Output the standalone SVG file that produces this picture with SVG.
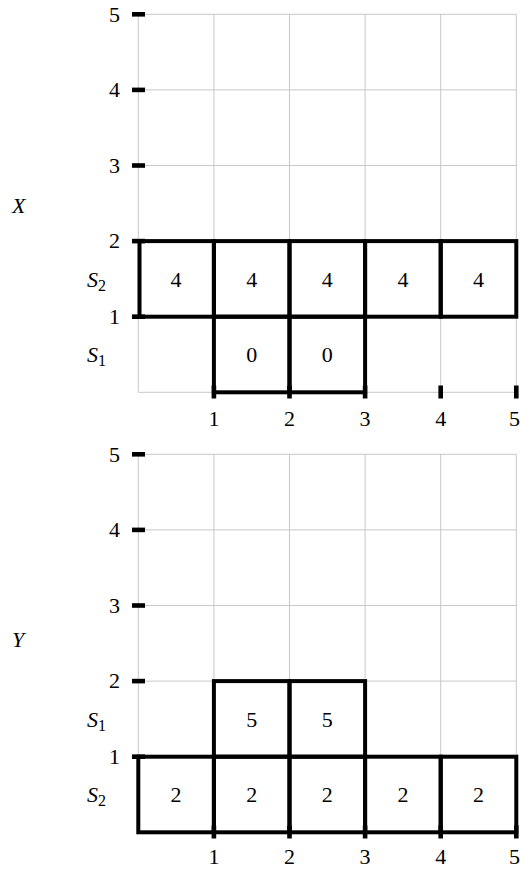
<svg xmlns="http://www.w3.org/2000/svg" width="521" height="869" viewBox="0 0 521 869" font-family="Liberation Serif" font-size="22">
<style>
.grid{stroke:#c8c8c8;stroke-width:1;fill:none}
.box{stroke:#000;stroke-width:4;fill:none}
.tick{fill:#000}
</style>
<rect width="521" height="869" fill="#fff"/>

<g id="plotX">
<path class="grid" d="M138.3 14.3V392.3M213.9 14.3V392.3M289.5 14.3V392.3M365.1 14.3V392.3M440.7 14.3V392.3M516.3 14.3V392.3M138.3 14.3H516.3M138.3 89.9H516.3M138.3 165.5H516.3M138.3 241.1H516.3M138.3 316.7H516.3M138.3 392.3H516.3"/>
<g id="boxesX">
<rect class="box" x="139.5" y="241.1" width="74.4" height="75.6"/>
<rect class="box" x="213.9" y="241.1" width="75.6" height="75.6"/>
<rect class="box" x="289.5" y="241.1" width="75.6" height="75.6"/>
<rect class="box" x="365.1" y="241.1" width="75.6" height="75.6"/>
<rect class="box" x="440.7" y="241.1" width="75.6" height="75.6"/>
<rect class="box" x="213.9" y="316.7" width="75.6" height="75.6"/>
<rect class="box" x="289.5" y="316.7" width="75.6" height="75.6"/>
</g>
<g class="tick">
<rect x="132" y="12" width="13" height="4.6"/>
<rect x="132" y="87.6" width="13" height="4.6"/>
<rect x="132" y="163.2" width="13" height="4.6"/>
<rect x="132" y="238.8" width="13" height="4.6"/>
<rect x="132" y="314.4" width="13" height="4.6"/>
<rect x="211.6" y="385.5" width="4.6" height="13"/>
<rect x="287.2" y="385.5" width="4.6" height="13"/>
<rect x="362.8" y="385.5" width="4.6" height="13"/>
<rect x="438.4" y="385.5" width="4.6" height="13"/>
<rect x="514" y="385.5" width="4.6" height="13"/>
</g>
<text font-family="Liberation Serif" font-size="22" text-anchor="end" x="120" y="22">5</text>
<text font-family="Liberation Serif" font-size="22" text-anchor="end" x="120" y="97">4</text>
<text font-family="Liberation Serif" font-size="22" text-anchor="end" x="120" y="173">3</text>
<text font-family="Liberation Serif" font-size="22" text-anchor="end" x="120" y="248">2</text>
<text font-family="Liberation Serif" font-size="22" text-anchor="end" x="120" y="324">1</text>
<text font-family="Liberation Serif" font-size="22" text-anchor="middle" x="213.9" y="426">1</text>
<text font-family="Liberation Serif" font-size="22" text-anchor="middle" x="289.5" y="426">2</text>
<text font-family="Liberation Serif" font-size="22" text-anchor="middle" x="365.1" y="426">3</text>
<text font-family="Liberation Serif" font-size="22" text-anchor="middle" x="440.7" y="426">4</text>
<text font-family="Liberation Serif" font-size="22" text-anchor="middle" x="514.5" y="426">5</text>
<text font-family="Liberation Serif" font-size="22" text-anchor="middle" x="176.1" y="287">4</text>
<text font-family="Liberation Serif" font-size="22" text-anchor="middle" x="251.7" y="287">4</text>
<text font-family="Liberation Serif" font-size="22" text-anchor="middle" x="327.3" y="287">4</text>
<text font-family="Liberation Serif" font-size="22" text-anchor="middle" x="402.9" y="287">4</text>
<text font-family="Liberation Serif" font-size="22" text-anchor="middle" x="478.5" y="287">4</text>
<text font-family="Liberation Serif" font-size="22" text-anchor="middle" x="251.7" y="362">0</text>
<text font-family="Liberation Serif" font-size="22" text-anchor="middle" x="327.3" y="362">0</text>
<text font-family="Liberation Serif" font-size="22" font-style="italic" x="87" y="287">S<tspan font-size="16" font-style="normal" dy="4">2</tspan></text>
<text font-family="Liberation Serif" font-size="22" font-style="italic" x="87" y="362">S<tspan font-size="16" font-style="normal" dy="4">1</tspan></text>
<text font-family="Liberation Serif" font-size="22" font-style="italic" x="12" y="213">X</text>
</g>

<g id="plotY">
<path class="grid" d="M138.3 454.3V832.3M213.9 454.3V832.3M289.5 454.3V832.3M365.1 454.3V832.3M440.7 454.3V832.3M516.3 454.3V832.3M138.3 454.3H516.3M138.3 529.9H516.3M138.3 605.5H516.3M138.3 681.1H516.3M138.3 756.7H516.3M138.3 832.3H516.3"/>
<g id="boxesY">
<rect class="box" x="138.3" y="756.7" width="75.6" height="75.6"/>
<rect class="box" x="213.9" y="756.7" width="75.6" height="75.6"/>
<rect class="box" x="289.5" y="756.7" width="75.6" height="75.6"/>
<rect class="box" x="365.1" y="756.7" width="75.6" height="75.6"/>
<rect class="box" x="440.7" y="756.7" width="75.6" height="75.6"/>
<rect class="box" x="213.9" y="681.1" width="75.6" height="75.6"/>
<rect class="box" x="289.5" y="681.1" width="75.6" height="75.6"/>
</g>
<g class="tick">
<rect x="132" y="452" width="13" height="4.6"/>
<rect x="132" y="527.6" width="13" height="4.6"/>
<rect x="132" y="603.2" width="13" height="4.6"/>
<rect x="132" y="678.8" width="13" height="4.6"/>
<rect x="132" y="754.4" width="13" height="4.6"/>
<rect x="211.6" y="825.5" width="4.6" height="13"/>
<rect x="287.2" y="825.5" width="4.6" height="13"/>
<rect x="362.8" y="825.5" width="4.6" height="13"/>
<rect x="438.4" y="825.5" width="4.6" height="13"/>
<rect x="514" y="825.5" width="4.6" height="13"/>
</g>
<text font-family="Liberation Serif" font-size="22" text-anchor="end" x="120" y="462">5</text>
<text font-family="Liberation Serif" font-size="22" text-anchor="end" x="120" y="537">4</text>
<text font-family="Liberation Serif" font-size="22" text-anchor="end" x="120" y="613">3</text>
<text font-family="Liberation Serif" font-size="22" text-anchor="end" x="120" y="688">2</text>
<text font-family="Liberation Serif" font-size="22" text-anchor="end" x="120" y="764">1</text>
<text font-family="Liberation Serif" font-size="22" text-anchor="middle" x="213.9" y="864">1</text>
<text font-family="Liberation Serif" font-size="22" text-anchor="middle" x="289.5" y="864">2</text>
<text font-family="Liberation Serif" font-size="22" text-anchor="middle" x="365.1" y="864">3</text>
<text font-family="Liberation Serif" font-size="22" text-anchor="middle" x="440.7" y="864">4</text>
<text font-family="Liberation Serif" font-size="22" text-anchor="middle" x="514.5" y="864">5</text>
<text font-family="Liberation Serif" font-size="22" text-anchor="middle" x="176.1" y="802">2</text>
<text font-family="Liberation Serif" font-size="22" text-anchor="middle" x="251.7" y="802">2</text>
<text font-family="Liberation Serif" font-size="22" text-anchor="middle" x="327.3" y="802">2</text>
<text font-family="Liberation Serif" font-size="22" text-anchor="middle" x="402.9" y="802">2</text>
<text font-family="Liberation Serif" font-size="22" text-anchor="middle" x="478.5" y="802">2</text>
<text font-family="Liberation Serif" font-size="22" text-anchor="middle" x="251.7" y="727">5</text>
<text font-family="Liberation Serif" font-size="22" text-anchor="middle" x="327.3" y="727">5</text>
<text font-family="Liberation Serif" font-size="22" font-style="italic" x="87" y="727">S<tspan font-size="16" font-style="normal" dy="4">1</tspan></text>
<text font-family="Liberation Serif" font-size="22" font-style="italic" x="87" y="802">S<tspan font-size="16" font-style="normal" dy="4">2</tspan></text>
<text font-family="Liberation Serif" font-size="22" font-style="italic" x="12" y="647">Y</text>
</g>
</svg>
